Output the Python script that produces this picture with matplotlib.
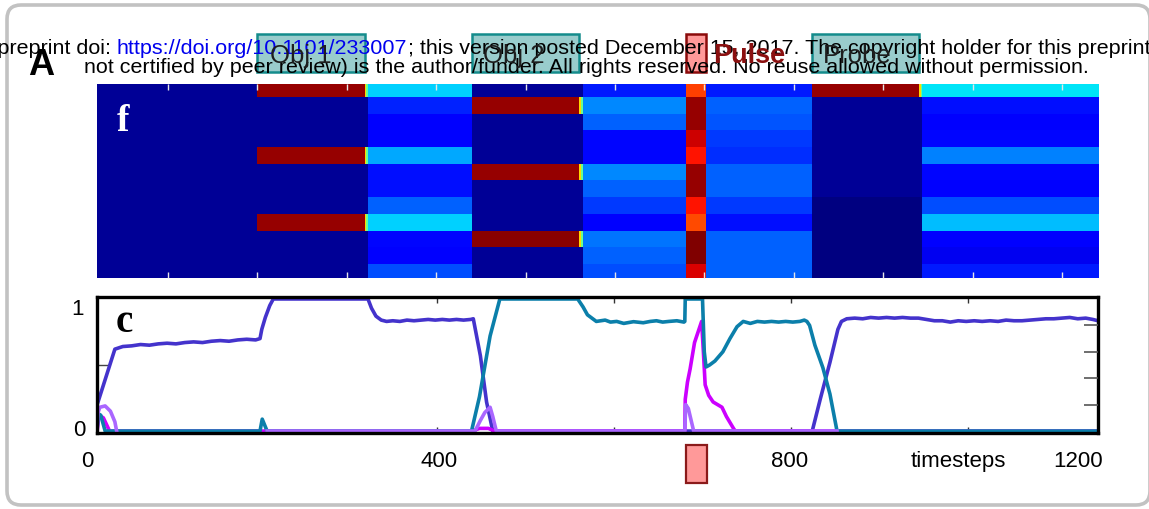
import numpy as np
import matplotlib
matplotlib.use("Agg")
import matplotlib.pyplot as plt
from matplotlib.patches import Rectangle, FancyBboxPatch

# ---------------------------------------------------------------- data
# Event windows (timesteps)
obj1_win = (200, 320)
obj2_win = (440, 560)
pulse_win = (680, 702)
probe_win = (820, 940)

# Heatmap: one value (0..1, jet scale) per unit row for each phase of the trial
pre_stim    = [0.02, 0.02, 0.02, 0.02, 0.02, 0.02, 0.02, 0.02, 0.02, 0.02, 0.02, 0.02]
during_obj1 = [0.98, 0.02, 0.02, 0.02, 0.98, 0.02, 0.02, 0.02, 0.98, 0.02, 0.02, 0.02]
after_obj1  = [0.33, 0.16, 0.11, 0.125, 0.29, 0.14, 0.14, 0.22, 0.33, 0.13, 0.11, 0.20]
during_obj2 = [0.02, 0.98, 0.02, 0.02, 0.02, 0.98, 0.02, 0.02, 0.02, 0.99, 0.02, 0.02]
after_obj2  = [0.15, 0.26, 0.22, 0.13, 0.13, 0.26, 0.22, 0.18, 0.12, 0.24, 0.22, 0.20]
during_pulse = [0.84, 0.98, 0.98, 0.93, 0.89, 0.98, 0.98, 0.89, 0.83, 1.00, 1.00, 0.92]
after_pulse = [0.15, 0.22, 0.21, 0.18, 0.17, 0.22, 0.22, 0.18, 0.14, 0.22, 0.22, 0.22]
during_probe = [0.98, 0.02, 0.02, 0.02, 0.02, 0.02, 0.02, 0.0, 0.0, 0.0, 0.0, 0.0]
after_probe = [0.35, 0.14, 0.12, 0.13, 0.25, 0.13, 0.12, 0.20, 0.31, 0.12, 0.10, 0.15]
offset_fade = [0.68, 0.48]          # decay of a driven unit right after its input ends
fade_steps = 2

# Tracking-unit activity traces
obj1_t = [16, 36, 45, 55, 65, 75, 85, 95, 105, 115, 125, 135, 145, 155, 165, 175, 185, 195,
          200, 202, 206, 211, 215, 322, 326, 331, 337, 343, 350, 358, 366, 374, 382, 390,
          398, 406, 414, 422, 430, 438, 441, 449, 456, 463, 824, 833, 844, 853, 857, 863,
          872, 881, 890, 899, 908, 917, 926, 935, 944, 953, 962, 971, 980, 989, 998, 1007,
          1016, 1025, 1034, 1043, 1052, 1061, 1070, 1079, 1088, 1097, 1106, 1115, 1124,
          1133, 1141, 1147]
obj1_y = [0.20, 0.62, 0.64, 0.645, 0.655, 0.65, 0.66, 0.665, 0.66, 0.67, 0.675, 0.67, 0.68,
          0.685, 0.68, 0.69, 0.695, 0.69, 0.70, 0.77, 0.86, 0.95, 1.0, 1.0, 0.93, 0.87, 0.84,
          0.83, 0.835, 0.83, 0.84, 0.835, 0.84, 0.845, 0.84, 0.845, 0.84, 0.845, 0.84, 0.845,
          0.85, 0.57, 0.22, 0.0, 0.0, 0.24, 0.52, 0.77, 0.83, 0.85, 0.855, 0.85, 0.86, 0.855,
          0.86, 0.855, 0.86, 0.855, 0.855, 0.845, 0.835, 0.835, 0.825, 0.835, 0.83, 0.835,
          0.83, 0.835, 0.83, 0.84, 0.835, 0.835, 0.84, 0.845, 0.85, 0.85, 0.855, 0.86, 0.85,
          0.855, 0.845, 0.835]

obj2_t = [16, 17.5, 20, 25, 200, 202.5, 208, 439, 448, 460, 471, 559, 565, 570, 575, 580,
          590, 596, 603, 611, 622, 633, 641, 648, 655, 662, 671, 679, 680, 680.5, 700, 702,
          704, 708, 714, 723, 731, 739, 746, 754, 762, 770, 778, 786, 794, 802, 810, 815,
          818, 821, 827, 836, 844, 852, 1147]
obj2_y = [0.02, 0.13, 0.12, 0.0, 0.0, 0.09, 0.0, 0.0, 0.26, 0.72, 1.0, 1.0, 0.94, 0.88,
          0.855, 0.83, 0.84, 0.825, 0.83, 0.815, 0.828, 0.82, 0.83, 0.835, 0.825, 0.83,
          0.835, 0.825, 0.83, 1.0, 1.0, 0.6, 0.485, 0.5, 0.53, 0.6, 0.7, 0.79, 0.83, 0.815,
          0.83, 0.825, 0.83, 0.825, 0.83, 0.825, 0.83, 0.84, 0.83, 0.8, 0.65, 0.48, 0.28,
          0.0, 0.0]

pulse_t = [16, 18, 23, 30, 440, 448, 458, 465, 680, 680.5, 683, 686, 691, 699, 701, 703,
           707, 712, 722, 727, 735, 737, 1147]
pulse_y = [0.0, 0.12, 0.10, 0.0, 0.0, 0.02, 0.02, 0.0, 0.0, 0.24, 0.37, 0.47, 0.67, 0.83,
           0.6, 0.35, 0.27, 0.22, 0.18, 0.11, 0.02, 0.0, 0.0]

probe_t = [16, 17, 19, 25, 31, 36, 38, 39,
           208, 443, 449, 454, 460, 463, 467, 680, 681, 684, 690, 852]
probe_y = [0.04, 0.14, 0.18, 0.19, 0.15, 0.07, 0.0, np.nan,
           0.0, 0.0, 0.08, 0.14, 0.18, 0.11, 0.0, 0.0, 0.2, 0.17, 0.0, 0.0]

x_tick_labels = ["0", "400", "800", "timesteps", "1200"]

# ---------------------------------------------------------------- figure
W, H = 1149, 510
fig = plt.figure(figsize=(W / 100, H / 100), dpi=100)
plt.rcParams["font.family"] = ["Liberation Sans", "DejaVu Sans"]


def fbox(x0, y0, x1, y1):
    """pixel box (top-left origin) -> figure fraction rect"""
    return [x0 / W, 1 - y1 / H, (x1 - x0) / W, (y1 - y0) / H]


# pixel-space layer for frame, header and event labels
deco = fig.add_axes([0, 0, 1, 1], zorder=0)
deco.set_xlim(0, W)
deco.set_ylim(H, 0)
deco.axis("off")

deco.add_patch(FancyBboxPatch((7, 6), 1143, 500,
                              boxstyle="round,pad=0,rounding_size=14",
                              lw=2.6, ec="#c2c2c2", fc="none"))

# event label boxes
hm_x0, hm_x1 = 97, 1099
hm_t0, hm_t1 = 20.6, 1141.5


def hm_px(t):
    return hm_x0 + (t - hm_t0) * (hm_x1 - hm_x0) / (hm_t1 - hm_t0)


for name, win, tx in [("Obj 1", obj1_win, 270), ("Obj 2", obj2_win, 483),
                      ("Probe", probe_win, 823)]:
    x0, x1 = hm_px(win[0]), hm_px(win[1])
    deco.add_patch(Rectangle((x0, 35), x1 - x0, 38, fc="#99cccc", ec="#148c8c",
                             lw=1.8, zorder=1))
    deco.text(tx, 63, name, fontsize=18.5, color="#1e1e1e", va="baseline",
              ha="left", zorder=4)

px0, px1 = hm_px(pulse_win[0]), hm_px(pulse_win[1])
deco.add_patch(Rectangle((px0, 35), px1 - px0, 38, fc="#ff9999", ec="#8b0a0a",
                         lw=1.8, zorder=1))
deco.text(713, 63, "Pulse", fontsize=19.5, fontweight="bold", color="#8b1010",
          va="baseline", ha="left", zorder=4)

# header lines
hdr_fs = 15.45
fig.canvas.draw()
renderer = fig.canvas.get_renderer()
url = deco.text(117, 54, "https://doi.org/10.1101/233007", fontsize=hdr_fs,
                color="#0000ee", va="baseline", ha="left", zorder=3)
bb = url.get_window_extent(renderer)
space = 0.278 * hdr_fs * 100 / 72
deco.text(bb.x0 - space, 54, "bioRxiv preprint doi:", fontsize=hdr_fs, color="black",
          va="baseline", ha="right", zorder=3)
deco.text(bb.x1, 54,
          "; this version posted December 15, 2017. The copyright holder for this preprint",
          fontsize=hdr_fs, color="black", va="baseline", ha="left", zorder=3)
deco.text(586, 73,
          "not certified by peer review) is the author/funder. All rights reserved. "
          "No reuse allowed without permission.",
          fontsize=hdr_fs, color="black", va="baseline", ha="center", zorder=3)

deco.text(28, 75, "A", fontsize=26, fontweight="bold", color="black",
          va="baseline", ha="left")

# ---------------------------------------------------------------- heatmap (panel f)
ax_h = fig.add_axes(fbox(hm_x0, 85, hm_x1, 279), zorder=1)

obj_rows_1 = np.array(during_obj1) > 0.5
obj_rows_2 = np.array(during_obj2) > 0.5
obj_rows_p = np.array(during_probe) > 0.5


def fade_cols(rows, held):
    return [np.where(rows, v, held) for v in offset_fade]


columns = ([pre_stim, during_obj1] + fade_cols(obj_rows_1, during_obj1) +
           [after_obj1, during_obj2] + fade_cols(obj_rows_2, during_obj2) +
           [after_obj2, during_pulse, after_pulse, during_probe] +
           fade_cols(obj_rows_p, during_probe) + [after_probe])
edges = [0, obj1_win[0], obj1_win[1], obj1_win[1] + fade_steps, obj1_win[1] + 2 * fade_steps,
         obj2_win[0], obj2_win[1], obj2_win[1] + fade_steps, obj2_win[1] + 2 * fade_steps,
         pulse_win[0], pulse_win[1], probe_win[0], probe_win[1],
         probe_win[1] + fade_steps, probe_win[1] + 2 * fade_steps, 1150]
Z = np.array(columns, dtype=float).T
n_units = Z.shape[0]
ax_h.pcolormesh(edges, np.arange(n_units + 1) - 0.5, Z, cmap="jet", vmin=0, vmax=1,
                shading="flat")
ax_h.set_xlim(hm_t0, hm_t1)
ax_h.set_ylim(11.34, -0.28)
for s in ax_h.spines.values():
    s.set_visible(False)
ax_h.set_xticks(np.arange(100, 1200, 100))
ax_h.set_yticks([])
ax_h.tick_params(axis="x", direction="in", length=4, width=1, color="#e6e6e6",
                 top=True, bottom=True, labelbottom=False, labeltop=False)

# ---------------------------------------------------------------- traces (panel c)
ax_l = fig.add_axes(fbox(97, 297.6, 1098, 434.4), zorder=1)
lw = 2.6
ax_l.plot(obj1_t, obj1_y, color="#4433cc", lw=lw, solid_joinstyle="round")
ax_l.plot(pulse_t, pulse_y, color="#cc00ff", lw=lw, solid_joinstyle="round")
ax_l.plot(obj2_t, obj2_y, color="#0b7faa", lw=lw, solid_joinstyle="round")
ax_l.plot(probe_t, probe_y, color="#aa66ff", lw=lw, solid_joinstyle="round")
ax_l.set_xlim(15.8, 1146.9)
ax_l.set_ylim(-0.018, 1.018)
for s in ax_l.spines.values():
    s.set_linewidth(2.4)
    s.set_color("black")
ax_l.set_xticks([400, 600, 800, 1000])
ax_l.set_yticks([0.5])
ax_l.tick_params(axis="x", direction="in", length=4, width=1, color="#333333",
                 top=True, bottom=True, labelbottom=False)
ax_l.tick_params(axis="y", direction="in", length=8, width=1, color="#444444",
                 labelleft=False)
ax_r = ax_l.twinx()
ax_r.set_ylim(ax_l.get_ylim())
ax_r.set_yticks([0.2, 0.4, 0.6, 0.8])
ax_r.tick_params(axis="y", direction="in", length=10, width=1.2, color="#555555",
                 labelright=False)
for s in ax_r.spines.values():
    s.set_visible(False)

# axis texts
for lab, xc in zip(x_tick_labels, [87, 439, 790, 958, 1078]):
    deco.text(xc, 467, lab, fontsize=16, ha="center", va="baseline", color="black")
deco.text(84, 315, "1", fontsize=16, ha="right", va="baseline")
deco.text(85, 436.5, "0", fontsize=16, ha="right", va="baseline")

# pulse marker under the time axis
deco.add_patch(Rectangle((686, 446), 21, 38, fc="#ff9999", ec="#8b1a1a", lw=1.6))

# panel letters
fig.text(117 / W, 1 - 131 / H, "f", fontsize=27, fontweight="bold", color="white",
         family="Liberation Serif", va="baseline", ha="left", zorder=5)
fig.text(116 / W, 1 - 332 / H, "c", fontsize=28, fontweight="bold", color="black",
         family="Liberation Serif", va="baseline", ha="left", zorder=5)

fig.savefig("out.png", dpi=100)
